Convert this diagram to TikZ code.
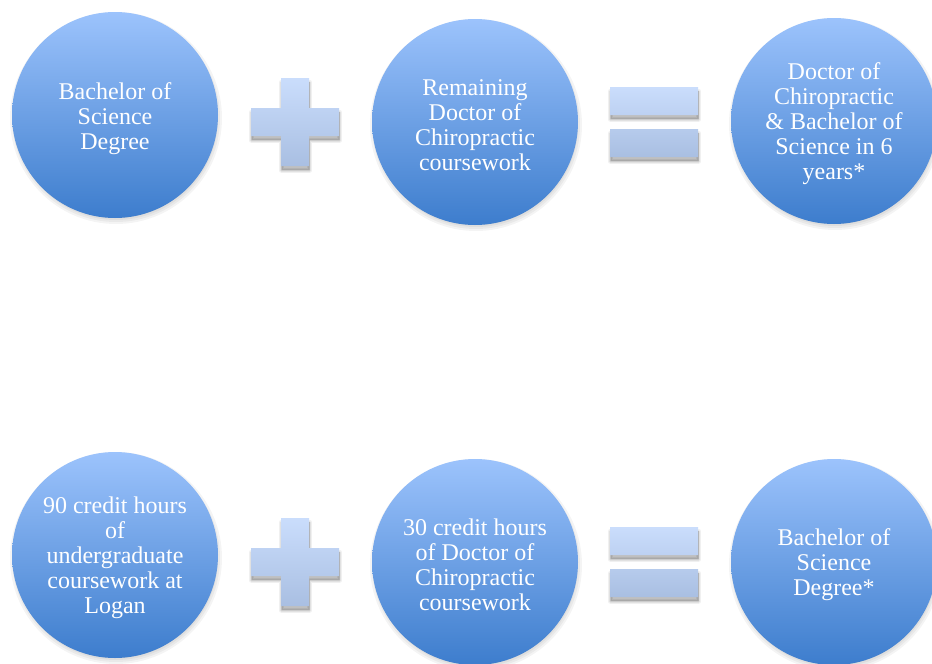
\documentclass[tikz,border=0pt]{standalone}
\usepackage{fontspec}
\setmainfont{Liberation Serif}
\definecolor{cTop}{HTML}{9CC3FC}
\definecolor{cBot}{HTML}{3D7DCD}
\definecolor{sTop}{HTML}{CADDFC}
\definecolor{sBot}{HTML}{A9BFE2}
\tikzset{
  circ/.style={circle, minimum size=206pt, inner sep=0pt, top color=cTop, bottom color=cBot},
  txt/.style={text=white, align=center, font=\fontsize{24}{25}\selectfont, inner sep=0pt},
  symb/.style={top color=sTop, bottom color=sBot, draw=none}
}
\newcommand{\circshadow}[2]{%
  \foreach \r in {-3,-1,1,3}{\fill[black, opacity=0.045] (#1+1,#2+3) circle (103+\r);}
}
\newcommand{\plusshape}{(-14,-44) -- (14,-44) -- (14,-14) -- (44,-14) -- (44,14) -- (14,14) -- (14,44) -- (-14,44) -- (-14,14) -- (-44,14) -- (-44,-14) -- (-14,-14) -- cycle}
\newcommand{\eqshape}{(-44,-35) rectangle (44,-7) (-44,7) rectangle (44,35)}
\newcommand{\plussym}[2]{%
  \begin{scope}[shift={(#1,#2)}]
  \begin{scope}[shift={(0.5,4)}]
  \foreach \w in {5,3,1}{\draw[black, opacity=0.06, line width=\w pt, line join=round] \plusshape;}
  \fill[black, opacity=0.25] \plusshape;
  \end{scope}
  \path[symb] \plusshape;
  \end{scope}}
\newcommand{\eqsym}[2]{%
  \begin{scope}[shift={(#1,#2)}]
  \begin{scope}[shift={(0.5,4)}]
  \foreach \w in {5,3,1}{\draw[black, opacity=0.06, line width=\w pt, line join=round] \eqshape;}
  \fill[black, opacity=0.25] \eqshape;
  \end{scope}
  \path[symb] \eqshape;
  \end{scope}}
\begin{document}
\begin{tikzpicture}[x=1pt, y=-1pt]
\useasboundingbox (0,0) rectangle (932,664);
\fill[white] (0,0) rectangle (932,664);
% shadows
\circshadow{115}{115}
\circshadow{475}{122}
\circshadow{834}{121}
\circshadow{115}{555}
\circshadow{475}{562}
\circshadow{834}{562}
% top row
\node[circ] (a1) at (115,115) {};
\node[circ] (a2) at (475,122) {};
\node[circ] (a3) at (834,121) {};
\node[txt] (a1t) at ([yshift=-4pt]a1.center) {Bachelor of\\Science\\Degree};
\node[txt] (a2t) at ([yshift=-3pt]a2.center) {Remaining\\Doctor of\\Chiropractic\\coursework};
\node[txt] (a3t) at ([yshift=-3pt]a3.center) {Doctor of\\Chiropractic\\\& Bachelor of\\Science in 6\\years*};
\plussym{295}{122}
\eqsym{654}{122}
% bottom row
\node[circ] (b1) at (115,555) {};
\node[circ] (b2) at (475,562) {};
\node[circ] (b3) at (834,562) {};
\node[txt] (b1t) at ([yshift=-3pt]b1.center) {90 credit hours\\of\\undergraduate\\coursework at\\Logan};
\node[txt] (b2t) at ([yshift=-3pt]b2.center) {30 credit hours\\of Doctor of\\Chiropractic\\coursework};
\node[txt] (b3t) at ([yshift=-3pt]b3.center) {Bachelor of\\Science\\Degree*};
\plussym{295}{562}
\eqsym{654}{562}
\end{tikzpicture}
\end{document}
